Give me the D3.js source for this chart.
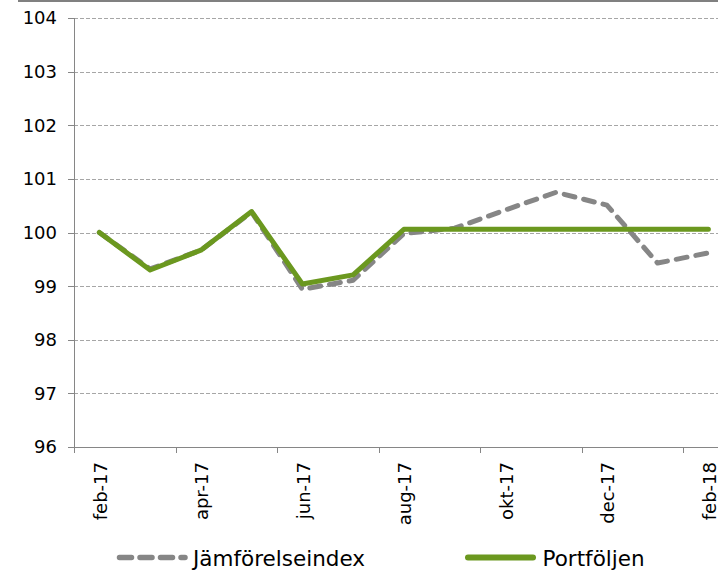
<!DOCTYPE html>
<html>
<head>
<meta charset="utf-8">
<script src="https://cdn.jsdelivr.net/npm/d3@7"></script>
<style>
  html, body { margin: 0; padding: 0; background: #fff; }
  svg { display: block; font-family: "DejaVu Sans", Verdana, sans-serif; }
  .lbl { font-size: 18px; fill: #000; }
  .leg { font-size: 21.5px; fill: #000; }
</style>
</head>
<body>
<svg id="chart" width="718" height="570"></svg>
<script>
const months = ["feb-17","mar-17","apr-17","maj-17","jun-17","jul-17","aug-17","sep-17","okt-17","nov-17","dec-17","jan-18","feb-18"];
const jamforelseindex = [100.00, 99.32, 99.67, 100.38, 98.94, 99.11, 99.98, 100.08, 100.42, 100.75, 100.51, 99.43, 99.62];
const portfoljen = [100.00, 99.30, 99.67, 100.39, 99.04, 99.21, 100.06, 100.06, 100.06, 100.06, 100.06, 100.06, 100.06];
const yTicks = [96, 97, 98, 99, 100, 101, 102, 103, 104];
const seriesNames = ["Jämförelseindex", "Portföljen"];

const svg = d3.select("#chart");
const plotLeft = 74, plotTop = 18, plotBottom = 447, band = 50.75;

const x = d3.scaleBand().domain(months).range([plotLeft, plotLeft + band * months.length]).paddingInner(0).paddingOuter(0);
const y = d3.scaleLinear().domain([96, 104]).range([plotBottom, plotTop]);

// top gray bar
svg.append("rect").attr("x", 18).attr("y", 0).attr("width", 700).attr("height", 2).attr("fill", "#808080");

// gridlines
svg.append("g").selectAll("line").data(yTicks.filter(d => d !== 96)).join("line")
  .attr("x1", plotLeft).attr("x2", 718)
  .attr("y1", d => Math.round(y(d)) + 0.5).attr("y2", d => Math.round(y(d)) + 0.5)
  .attr("stroke", "#a6a6a6").attr("stroke-width", 1).attr("stroke-dasharray", "4,2");

// y axis line + ticks
svg.append("line").attr("x1", plotLeft + 0.5).attr("x2", plotLeft + 0.5).attr("y1", plotTop).attr("y2", plotBottom + 1)
  .attr("stroke", "#868686");
svg.append("g").selectAll("line").data(yTicks).join("line")
  .attr("x1", plotLeft - 6).attr("x2", plotLeft)
  .attr("y1", d => Math.round(y(d)) + 0.5).attr("y2", d => Math.round(y(d)) + 0.5)
  .attr("stroke", "#868686");
svg.append("g").selectAll("text").data(yTicks).join("text")
  .attr("class", "lbl")
  .attr("x", 57).attr("y", d => y(d)).attr("dy", "0.36em")
  .attr("text-anchor", "end")
  .text(d => d3.format("d")(d));

// x axis line
svg.append("line").attr("x1", plotLeft).attr("x2", 718).attr("y1", plotBottom + 0.5).attr("y2", plotBottom + 0.5).attr("stroke", "#868686");

// x tick marks at band starts every 2 categories
const tickMonths = months.filter((m, i) => i % 2 === 0);
svg.append("g").selectAll("line").data(tickMonths).join("line")
  .attr("x1", d => Math.round(x(d)) + 0.5).attr("x2", d => Math.round(x(d)) + 0.5)
  .attr("y1", plotBottom).attr("y2", plotBottom + 6)
  .attr("stroke", "#868686");

// x labels
svg.append("g").selectAll("text").data(tickMonths).join("text")
  .attr("class", "lbl")
  .attr("transform", d => `translate(${x(d) + x.bandwidth() / 2 + 1},462) rotate(-90)`)
  .attr("text-anchor", "end").attr("dy", "0.35em")
  .text(d => d);

// lines
const line = d3.line().x((d, i) => x(months[i]) + x.bandwidth() / 2).y(d => y(d));
svg.append("path").datum(jamforelseindex).attr("d", line)
  .attr("fill", "none").attr("stroke", "#868686").attr("stroke-width", 5)
  .attr("stroke-dasharray", "11,9").attr("stroke-linecap", "round").attr("stroke-linejoin", "round");
svg.append("path").datum(portfoljen).attr("d", line)
  .attr("fill", "none").attr("stroke", "#6b981f").attr("stroke-width", 5)
  .attr("stroke-linecap", "round").attr("stroke-linejoin", "round");

// legend
const ly = 557.5;
svg.append("line").attr("x1", 119.5).attr("x2", 185).attr("y1", ly).attr("y2", ly)
  .attr("stroke", "#868686").attr("stroke-width", 5.5).attr("stroke-dasharray", "12,8.5").attr("stroke-linecap", "round");
svg.append("text").attr("class", "leg").attr("x", 193).attr("y", 566).text(seriesNames[0]);
svg.append("line").attr("x1", 468).attr("x2", 533).attr("y1", ly).attr("y2", ly)
  .attr("stroke", "#6b981f").attr("stroke-width", 6).attr("stroke-linecap", "round");
svg.append("text").attr("class", "leg").attr("x", 542.5).attr("y", 566).text(seriesNames[1]);
</script>
</body>
</html>
